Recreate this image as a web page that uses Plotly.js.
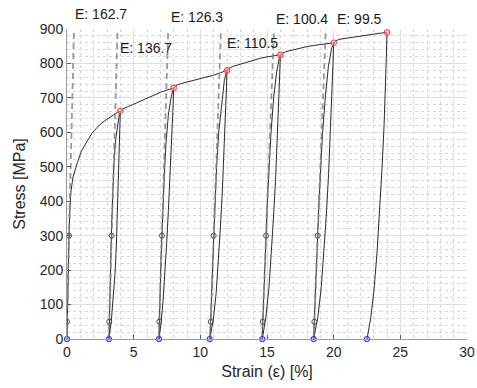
<!DOCTYPE html>
<html>
<head>
<meta charset="utf-8">
<script src="https://cdn.plot.ly/plotly-3.0.1.min.js"></script>
<style>html,body{margin:0;padding:0;background:#fff;}#chart{width:477px;height:388px;}</style>
</head>
<body>
<div id="chart"></div>
<script>
// ---- Data ----
// full load / unload / reload path
const strain = [
  0,0.02,0.08,0.15,0.22,0.3,0.45,0.6,0.8,1.1,1.5,1.85,2.2,2.6,3.0,3.35,3.7,4.0,
  3.97,3.92,3.85,3.78,3.7,3.6,3.48,3.33,3.15,
  3.16,3.17,3.22,3.3,3.34,3.42,3.52,3.65,3.8,3.92,4.05,4.2,
  4.6,5.0,5.5,6.0,6.5,7.0,7.5,8.0,
  7.95,7.88,7.8,7.7,7.6,7.48,7.35,7.2,7.05,6.9,
  6.91,6.92,6.97,7.05,7.12,7.2,7.3,7.43,7.6,7.8,7.95,8.1,8.3,
  8.6,9.0,9.5,10.0,10.5,11.0,11.5,12.0,
  11.95,11.88,11.78,11.65,11.5,11.35,11.18,10.97,10.7,
  10.74,10.78,10.86,10.95,11.0,11.1,11.22,11.38,11.6,11.8,11.97,12.2,12.5,
  13.0,13.5,14.0,14.5,15.0,15.5,16.0,
  15.95,15.88,15.78,15.65,15.5,15.33,15.15,14.92,14.65,
  14.66,14.68,14.78,14.93,15.03,15.15,15.3,15.5,15.72,15.92,16.1,16.4,
  17.0,17.5,18.0,18.5,19.0,19.5,20.0,
  19.95,19.87,19.76,19.62,19.45,19.27,19.07,18.82,18.5,
  18.52,18.55,18.67,18.8,18.9,19.02,19.17,19.37,19.6,19.85,20.1,20.4,
  21.0,21.5,22.0,22.5,23.0,23.5,24.0,
  23.95,23.88,23.78,23.62,23.45,23.25,23.03,22.78,22.5
];
const stress = [
  0,50,150,300,380,430,470,492,515,547,575,596,612,627,638,648,656,662,
  620,540,440,350,270,190,120,55,0,
  25,50,140,260,320,420,510,580,630,652,664,668,
  675,682,691,700,708,716,723,729,
  670,600,530,450,370,280,190,110,45,0,
  25,50,130,230,300,390,480,570,650,700,724,733,738,
  742,746,751,755,760,766,773,780,
  720,640,540,430,320,220,130,55,0,
  25,50,150,250,300,400,500,600,690,750,777,787,792,
  798,804,810,815,819,822,825,
  765,680,580,470,360,250,150,65,0,
  25,50,160,300,400,500,600,700,775,815,828,834,
  840,845,849,852,855,857,860,
  800,710,600,480,360,250,150,65,0,
  25,50,170,300,400,500,600,700,790,845,864,870,
  873,876,879,882,885,888,890,
  820,730,620,490,370,250,145,60,0
];
// peak points (red)
const peakStrain = [4.0, 8.0, 12.0, 16.0, 20.0, 24.0];
const peakStress = [662, 729, 780, 825, 860, 890];
// residual points (blue)
const residStrain = [0, 3.15, 6.9, 10.7, 14.65, 18.5, 22.5];
const residStress = [0, 0, 0, 0, 0, 0, 0];
// fit points at 50 MPa and 300 MPa (grey)
const fitLowStrain  = [0.0, 3.17, 6.92, 10.78, 14.68, 18.55];
const fitHighStrain = [0.15, 3.35, 7.12, 11.0, 14.93, 18.8];
const fitLowStress = 50, fitHighStress = 300;
// moduli (GPa)
const moduli = [162.7, 136.7, 126.3, 110.5, 100.4, 99.5];
const modLabels = moduli.map(e => 'E: ' + e.toFixed(1));

// ---- Label placement (style, not data) ----
const labelX = [0.45, 3.83, 7.65, 11.85, 15.53, 20.1];
const labelYpaper = [1.048, 0.939, 1.039, 0.955, 1.032, 1.032];

// ---- Build traces ----
const fitX = [], fitY = [];
for (let i = 0; i < moduli.length; i++) {
  const slope = moduli[i] * 10; // MPa per %
  fitX.push(fitLowStrain[i] + (0 - fitLowStress) / slope, fitLowStrain[i] + (900 - fitLowStress) / slope, null);
  fitY.push(0, 900, null);
}
const gX = [], gY = [];
for (let i = 0; i < fitLowStrain.length; i++) {
  gX.push(fitLowStrain[i], fitHighStrain[i]);
  gY.push(fitLowStress, fitHighStress);
}

const font = 'Arial, "Liberation Sans", sans-serif';
const traces = [
  {x: strain, y: stress, mode: 'lines', line: {color: '#2a2a2a', width: 1}, hoverinfo: 'skip'},
  {x: fitX, y: fitY, mode: 'lines', line: {color: 'rgba(128,128,128,0.8)', width: 1.8, dash: '6px,4px'}, hoverinfo: 'skip'},
  {x: gX, y: gY, mode: 'markers', marker: {symbol: 'circle-open', size: 5, color: '#505050', line: {width: 1}}},
  {x: residStrain, y: residStress, mode: 'markers', marker: {symbol: 'circle-open', size: 5, color: '#3030ff', line: {width: 1.2}}, cliponaxis: false},
  {x: peakStrain, y: peakStress, mode: 'markers', marker: {symbol: 'circle', size: 5.5, color: 'rgba(255,190,190,0.5)', line: {color: '#ff4040', width: 1.1}}, cliponaxis: false}
];

const annotations = modLabels.map((t, i) => ({
  text: t, x: labelX[i], xref: 'x', y: labelYpaper[i], yref: 'paper',
  xanchor: 'left', yanchor: 'middle', showarrow: false,
  font: {family: font, size: 14, color: '#1a1a1a'}
}));

const axisCommon = {
  showline: true, linecolor: '#9a9a9a', linewidth: 1,
  ticks: 'inside', ticklen: 4, tickcolor: '#555',
  tickfont: {family: font, size: 14, color: '#262626'},
  showgrid: true, gridcolor: '#dedede', gridwidth: 1,
  zeroline: false, mirror: false
};

const layout = {
  width: 477, height: 388,
  margin: {l: 67, r: 10, t: 29, b: 49},
  paper_bgcolor: '#fff', plot_bgcolor: '#fff',
  showlegend: false,
  xaxis: Object.assign({}, axisCommon, {
    range: [0, 30], dtick: 5, tick0: 0,
    minor: {dtick: 1, showgrid: true, gridcolor: '#d6d6d6', griddash: 'dot', gridwidth: 1},
    title: {text: 'Strain (ε) [%]', font: {family: font, size: 16, color: '#262626'}, standoff: 7}
  }),
  yaxis: Object.assign({}, axisCommon, {
    range: [0, 900], dtick: 100, tick0: 0,
    minor: {dtick: 20, showgrid: true, gridcolor: '#d6d6d6', griddash: 'dot', gridwidth: 1},
    title: {text: 'Stress [MPa]', font: {family: font, size: 16, color: '#262626'}, standoff: 10}
  }),
  annotations: annotations
};

Plotly.newPlot('chart', traces, layout, {displayModeBar: false, staticPlot: true});
</script>
</body>
</html>
